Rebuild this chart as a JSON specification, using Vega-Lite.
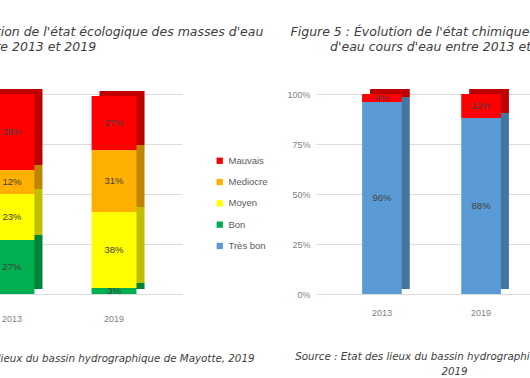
{
  "$schema": "https://vega.github.io/schema/vega-lite/v6.json",
  "background": "white",
  "padding": {"left": -102, "top": 25, "right": -75, "bottom": 0},
  "bounds": "flush",
  "spacing": 134,
  "config": {
    "view": {"stroke": null},
    "font": "DejaVu Sans",
    "axis": {"labelFont": "Liberation Sans", "labelFontSize": 9, "labelColor": "#7f7f7f", "domain": false, "ticks": false, "grid": false},
    "title": {"font": "DejaVu Sans", "fontSize": 12.5, "fontStyle": "italic", "fontWeight": "normal", "color": "#404040", "lineHeight": 15}
  },
  "datasets": {
    "eco": [
      {"annee": "2013", "etat": "Bon", "rang": 2, "pct": 0.27},
      {"annee": "2013", "etat": "Moyen", "rang": 3, "pct": 0.23},
      {"annee": "2013", "etat": "Mediocre", "rang": 4, "pct": 0.12},
      {"annee": "2013", "etat": "Mauvais", "rang": 5, "pct": 0.38},
      {"annee": "2019", "etat": "Bon", "rang": 2, "pct": 0.03},
      {"annee": "2019", "etat": "Moyen", "rang": 3, "pct": 0.38},
      {"annee": "2019", "etat": "Mediocre", "rang": 4, "pct": 0.31},
      {"annee": "2019", "etat": "Mauvais", "rang": 5, "pct": 0.27}
    ],
    "chim": [
      {"annee": "2013", "etat": "Très bon", "rang": 1, "pct": 0.96},
      {"annee": "2013", "etat": "Mauvais", "rang": 5, "pct": 0.04},
      {"annee": "2019", "etat": "Très bon", "rang": 1, "pct": 0.88},
      {"annee": "2019", "etat": "Mauvais", "rang": 5, "pct": 0.12}
    ]
  },
  "hconcat": [
    {
      "width": 238,
      "height": 200,
      "title": {"text": ["Figure 4 : Évolution de l'état écologique des masses d'eau", "cours d'eau entre 2013 et 2019"], "anchor": "start", "frame": "group", "dx": -46, "offset": 36},
      "data": {"name": "eco"},
      "encoding": {
        "x": {"field": "annee", "type": "nominal", "scale": {"domain": ["2013", "2019"], "paddingInner": 0.56, "paddingOuter": 0.446},
          "axis": {"labelAngle": 0, "labelPadding": 20, "title": "Source : Etat des lieux du bassin hydrographique de Mayotte, 2019", "titleX": 136, "titleY": 67, "titleBaseline": "alphabetic", "titleFont": "DejaVu Sans", "titleFontStyle": "italic", "titleFontWeight": "normal", "titleFontSize": 10.3, "titleColor": "#404040"}},
        "y": {"field": "pct", "type": "quantitative", "stack": "zero", "scale": {"domain": [0, 1]},
          "axis": {"labels": false, "values": [0, 0.25, 0.5, 0.75, 1], "grid": true, "gridColor": "#dcdcdc", "title": null}},
        "order": {"field": "rang", "type": "quantitative"}
      },
      "layer": [
        {
          "mark": {"type": "bar", "xOffset": 8, "x2Offset": 8, "yOffset": -5, "y2Offset": -5},
          "encoding": {
            "color": {"field": "etat", "type": "nominal", "scale": {"domain": ["Mauvais", "Mediocre", "Moyen", "Bon", "Très bon"], "range": ["#ff0000", "#ffb000", "#ffff00", "#00b050", "#5b9bd5"]},
              "legend": {"orient": "none", "legendX": 271, "legendY": 62, "title": null, "symbolType": "square", "symbolSize": 40, "symbolStrokeWidth": 0, "labelFont": "Liberation Sans", "labelFontSize": 9.5, "labelColor": "#595959", "rowPadding": 10.3}}
          }
        },
        {
          "mark": {"type": "bar", "xOffset": 8, "x2Offset": 8, "yOffset": -5, "y2Offset": -5, "color": "black", "opacity": 0.25},
          "encoding": {
            "detail": {"field": "etat", "type": "nominal"}
          }
        },
        {
          "mark": {"type": "bar"},
          "encoding": {
            "color": {"field": "etat", "type": "nominal"}
          }
        },
        {
          "mark": {"type": "text", "fontSize": 9.5, "color": "#404040", "baseline": "middle", "font": "Liberation Sans", "dy": {"expr": "datum.pct * 100"}},
          "encoding": {
            "detail": {"field": "etat", "type": "nominal"},
            "text": {"field": "pct", "type": "quantitative", "format": ".0%"}
          }
        }
      ]
    },
    {
      "width": 231,
      "height": 200,
      "title": {"text": ["Figure 5 : Évolution de l'état chimique des masses", "d'eau cours d'eau entre 2013 et 2019"], "anchor": "middle", "frame": "group", "dx": 17, "offset": 36},
      "data": {"name": "chim"},
      "encoding": {
        "x": {"field": "annee", "type": "nominal", "scale": {"domain": ["2013", "2019"], "paddingInner": 0.6, "paddingOuter": 0.465},
          "axis": {"labelAngle": 0, "labelPadding": 14, "title": ["Source : Etat des lieux du bassin hydrographique de Mayotte,", "2019"], "titleX": 138, "titleY": 65, "titleBaseline": "alphabetic", "titleLineHeight": 15, "titleFont": "DejaVu Sans", "titleFontStyle": "italic", "titleFontWeight": "normal", "titleFontSize": 10.3, "titleColor": "#404040"}},
        "y": {"field": "pct", "type": "quantitative", "stack": "zero", "scale": {"domain": [0, 1]},
          "axis": {"format": ".0%", "values": [0, 0.25, 0.5, 0.75, 1], "grid": true, "gridColor": "#dcdcdc", "labelPadding": 6, "title": null}},
        "order": {"field": "rang", "type": "quantitative"}
      },
      "layer": [
        {
          "mark": {"type": "bar", "xOffset": 8, "x2Offset": 8, "yOffset": -5, "y2Offset": -5},
          "encoding": {
            "color": {"field": "etat", "type": "nominal", "scale": {"domain": ["Mauvais", "Très bon"], "range": ["#ff0000", "#5b9bd5"]}, "legend": null}
          }
        },
        {
          "mark": {"type": "bar", "xOffset": 8, "x2Offset": 8, "yOffset": -5, "y2Offset": -5, "color": "black", "opacity": 0.25},
          "encoding": {
            "detail": {"field": "etat", "type": "nominal"}
          }
        },
        {
          "mark": {"type": "bar"},
          "encoding": {
            "color": {"field": "etat", "type": "nominal"}
          }
        },
        {
          "mark": {"type": "text", "fontSize": 9.5, "color": "#404040", "baseline": "middle", "font": "Liberation Sans", "dy": {"expr": "datum.pct * 100"}},
          "encoding": {
            "detail": {"field": "etat", "type": "nominal"},
            "text": {"field": "pct", "type": "quantitative", "format": ".0%"}
          }
        }
      ]
    }
  ]
}
